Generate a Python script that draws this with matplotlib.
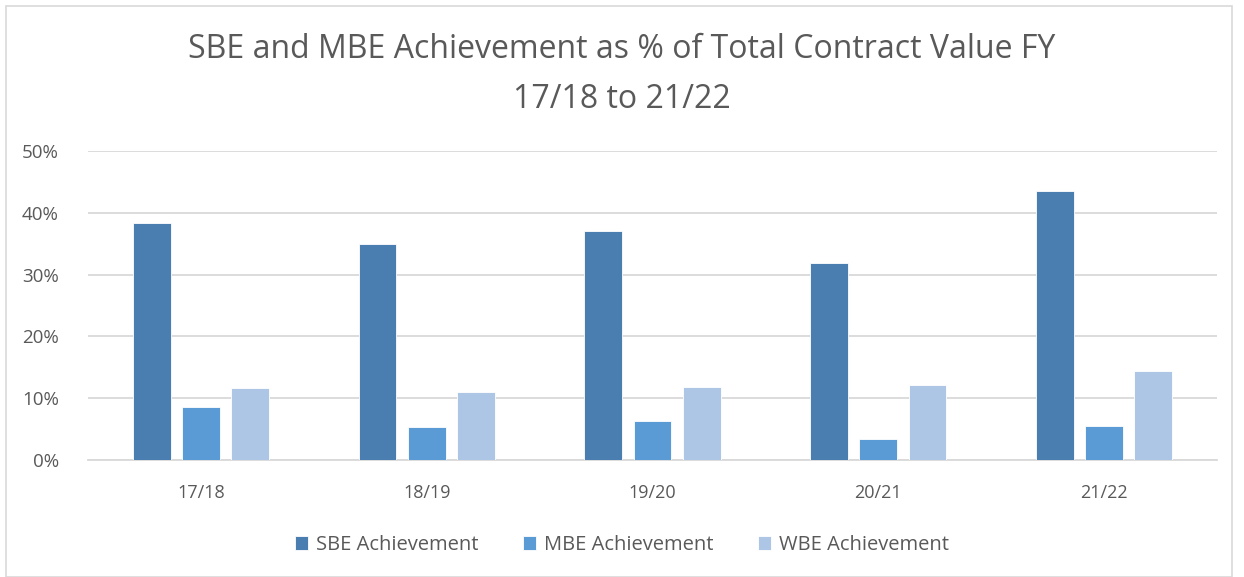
import matplotlib
matplotlib.use("Agg")
import matplotlib.pyplot as plt
import numpy as np
from matplotlib.patches import Rectangle
from matplotlib.ticker import PercentFormatter

categories = ["17/18", "18/19", "19/20", "20/21", "21/22"]
sbe = [38.4, 34.9, 37.0, 31.8, 43.6]
mbe = [8.5, 5.4, 6.3, 3.4, 5.5]
wbe = [11.7, 11.0, 11.8, 12.1, 14.4]
series_names = ["SBE Achievement", "MBE Achievement", "WBE Achievement"]
colors = ["#4a7eb0", "#5b9bd5", "#adc6e5"]

plt.rcParams['font.family'] = ['Open Sans', 'DejaVu Sans']
text_color = "#595959"

fig = plt.figure(figsize=(12.44, 5.77), dpi=100)
W, H = 1244, 577
ax = fig.add_axes([88 / W, 1 - 460 / H, (1217 - 88) / W, (460 - 151) / H])

x = np.arange(len(categories))
bw = 0.168
step = 0.218
for i, (vals, name, c) in enumerate(zip([sbe, mbe, wbe], series_names, colors)):
    ax.bar(x + (i - 1) * step, vals, width=bw, color=c, label=name,
           edgecolor="white", linewidth=0.6, zorder=3)

ax.set_xlim(-0.5, len(categories) - 0.5)
ax.set_ylim(0, 50)
ax.set_yticks([0, 10, 20, 30, 40, 50])
ax.yaxis.set_major_formatter(PercentFormatter(decimals=0))
ax.set_xticks(x)
ax.set_xticklabels(categories)
ax.grid(axis="y", color="#d9d9d9", linewidth=1.3, zorder=0)
ax.set_axisbelow(True)
for s in ["top", "right", "left"]:
    ax.spines[s].set_visible(False)
ax.spines["bottom"].set_color("#d9d9d9")
ax.spines["bottom"].set_linewidth(1.3)
ax.tick_params(axis="both", length=0, colors=text_color)
ax.tick_params(axis="y", pad=21, labelsize=13.5)
ax.tick_params(axis="x", pad=17, labelsize=13)

fig.text(0.5, 1 - 50 / H, "SBE and MBE Achievement as % of Total Contract Value FY",
         ha="center", va="center", fontsize=23, color=text_color)
fig.text(0.5, 1 - 99 / H, "17/18 to 21/22",
         ha="center", va="center", fontsize=23, color=text_color)

leg = fig.legend(loc="center", bbox_to_anchor=(0.5, 1 - 545 / H), ncol=3,
                 frameon=False, fontsize=14.5, handlelength=0.65, handleheight=0.65,
                 handletextpad=0.4, columnspacing=2.2)
for t in leg.get_texts():
    t.set_color(text_color)

fig.patches.append(Rectangle((6 / W, 0.5 / H), (1232 - 6) / W, (571 - 0.5) / H,
                             transform=fig.transFigure, fill=False,
                             edgecolor="#d9d9d9", linewidth=1.2))

fig.savefig("out.png", dpi=100, facecolor="white")
